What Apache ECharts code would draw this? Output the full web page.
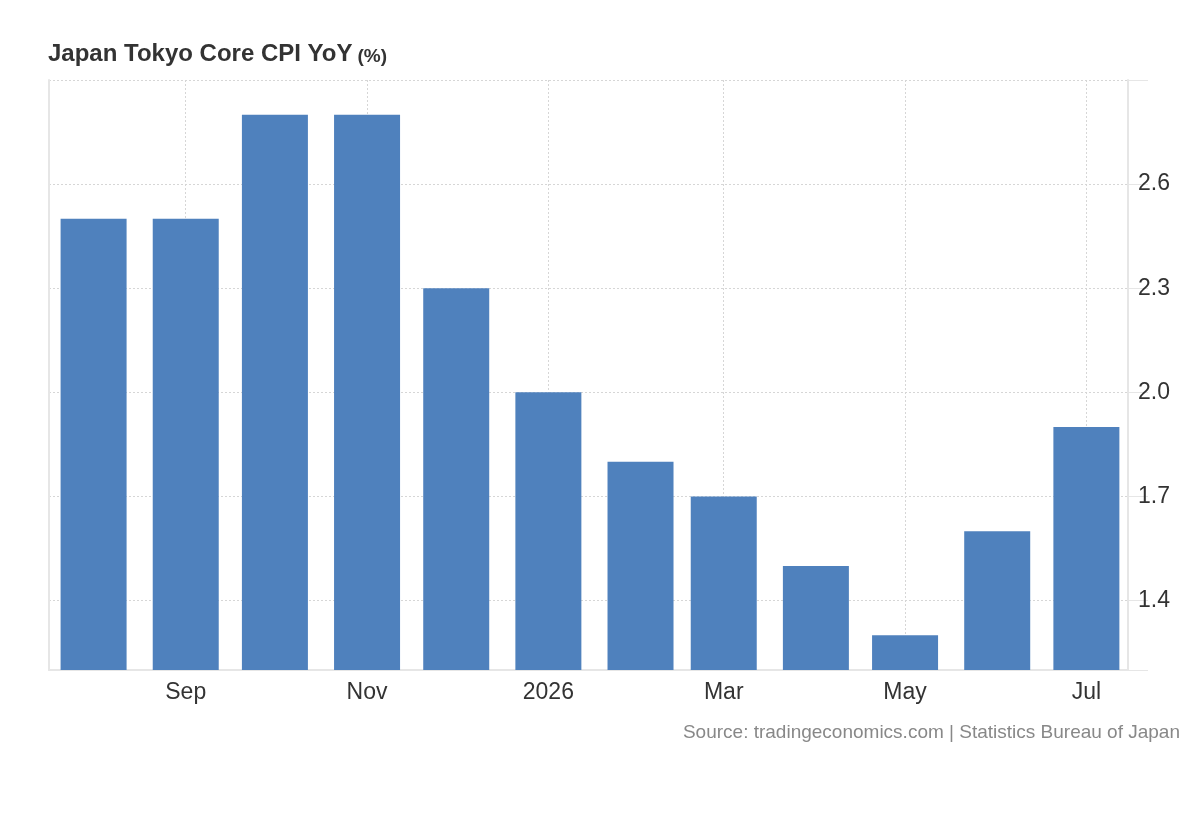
<!DOCTYPE html>
<html>
<head>
<meta charset="utf-8">
<script src="https://cdn.jsdelivr.net/npm/echarts@6/dist/echarts.min.js"></script>
<style>
html,body{margin:0;padding:0;background:#fff;}
#chart{width:1200px;height:820px;}
</style>
</head>
<body>
<div id="chart"></div>
<script>
// Data
var months = ['2025-08-01','2025-09-01','2025-10-01','2025-11-01','2025-12-01','2026-01-01','2026-02-01','2026-03-01','2026-04-01','2026-05-01','2026-06-01','2026-07-01'];
var values = [2.5, 2.5, 2.8, 2.8, 2.3, 2.0, 1.8, 1.7, 1.5, 1.3, 1.6, 1.9];
var yTickLabels = [1.4, 1.7, 2.0, 2.3, 2.6];
var yTickMarks = [1.2, 1.4, 1.7, 2.0, 2.3, 2.6, 2.9];
var monthNames = ['Jan','Feb','Mar','Apr','May','Jun','Jul','Aug','Sep','Oct','Nov','Dec'];

var FONT = 'Arial, "Liberation Sans", sans-serif';
var chart = echarts.init(document.getElementById('chart'));
var DAY = 24*3600*1000;
// ECharts 6 widens the time extent by half a bar on each side; pre-shrink so the final
// visible span runs from about 17 Jul 2025 to 15 Jul 2026.
var xMin = new Date(2025, 6, 17).getTime() + 11.1 * DAY;
var xMax = new Date(2026, 6, 15).getTime() - 11.1 * DAY;

var gridLine = {show: true, lineStyle: {color: '#d6d6d6', type: [2, 2], width: 1}};

var option = {
  animation: false,
  backgroundColor: '#fff',
  title: {
    left: 48,
    top: 42,
    padding: 0,
    text: '{a|Japan Tokyo Core CPI YoY} {b|(%)}',
    textStyle: {
      rich: {
        a: {fontFamily: FONT, fontSize: 24, fontWeight: 'bold', color: '#333', verticalAlign: 'bottom'},
        b: {fontFamily: FONT, fontSize: 19, fontWeight: 'bold', color: '#333', verticalAlign: 'bottom'}
      }
    }
  },
  graphic: [{
    type: 'text',
    right: 20,
    top: 723,
    style: {
      text: 'Source: tradingeconomics.com | Statistics Bureau of Japan',
      font: '19px ' + FONT,
      fill: '#888'
    }
  }],
  grid: {left: 49, right: 72, top: 80, bottom: 150, containLabel: false},
  xAxis: {
    type: 'time',
    min: xMin,
    max: xMax,
    splitNumber: 6,
    minInterval: 61*DAY,
    maxInterval: 61*DAY,
    axisLine: {show: true, lineStyle: {color: '#e6e6e6', width: 2}},
    axisTick: {show: false},
    axisLabel: {
      color: '#333',
      fontFamily: FONT,
      fontSize: 23,
      margin: 11,
      formatter: function (v) {
        var d = new Date(v);
        return d.getMonth() === 0 ? String(d.getFullYear()) : monthNames[d.getMonth()];
      }
    },
    splitLine: gridLine
  },
  yAxis: [{
    type: 'value',
    position: 'right',
    min: 1.2,
    max: 2.9,
    axisLine: {show: true, lineStyle: {color: '#e6e6e6', width: 2}},
    axisTick: {show: true, length: 20, customValues: yTickMarks, lineStyle: {color: '#e6e6e6', width: 1}},
    axisLabel: {
      customValues: yTickLabels,
      color: '#333',
      fontFamily: FONT,
      fontSize: 23,
      margin: 10,
      formatter: function (v) { return Number(v).toFixed(1); }
    },
    splitLine: gridLine
  }, {
    type: 'value',
    position: 'left',
    min: 1.2,
    max: 2.9,
    axisLine: {show: true, onZero: false, lineStyle: {color: '#e6e6e6', width: 2}},
    axisTick: {show: false},
    axisLabel: {show: false},
    splitLine: {show: false}
  }],
  series: [{
    type: 'bar',
    barWidth: 66,
    itemStyle: {color: '#4f81bd'},
    data: months.map(function (m, i) { return [m, values[i]]; })
  }]
};
chart.setOption(option);
</script>
</body>
</html>
